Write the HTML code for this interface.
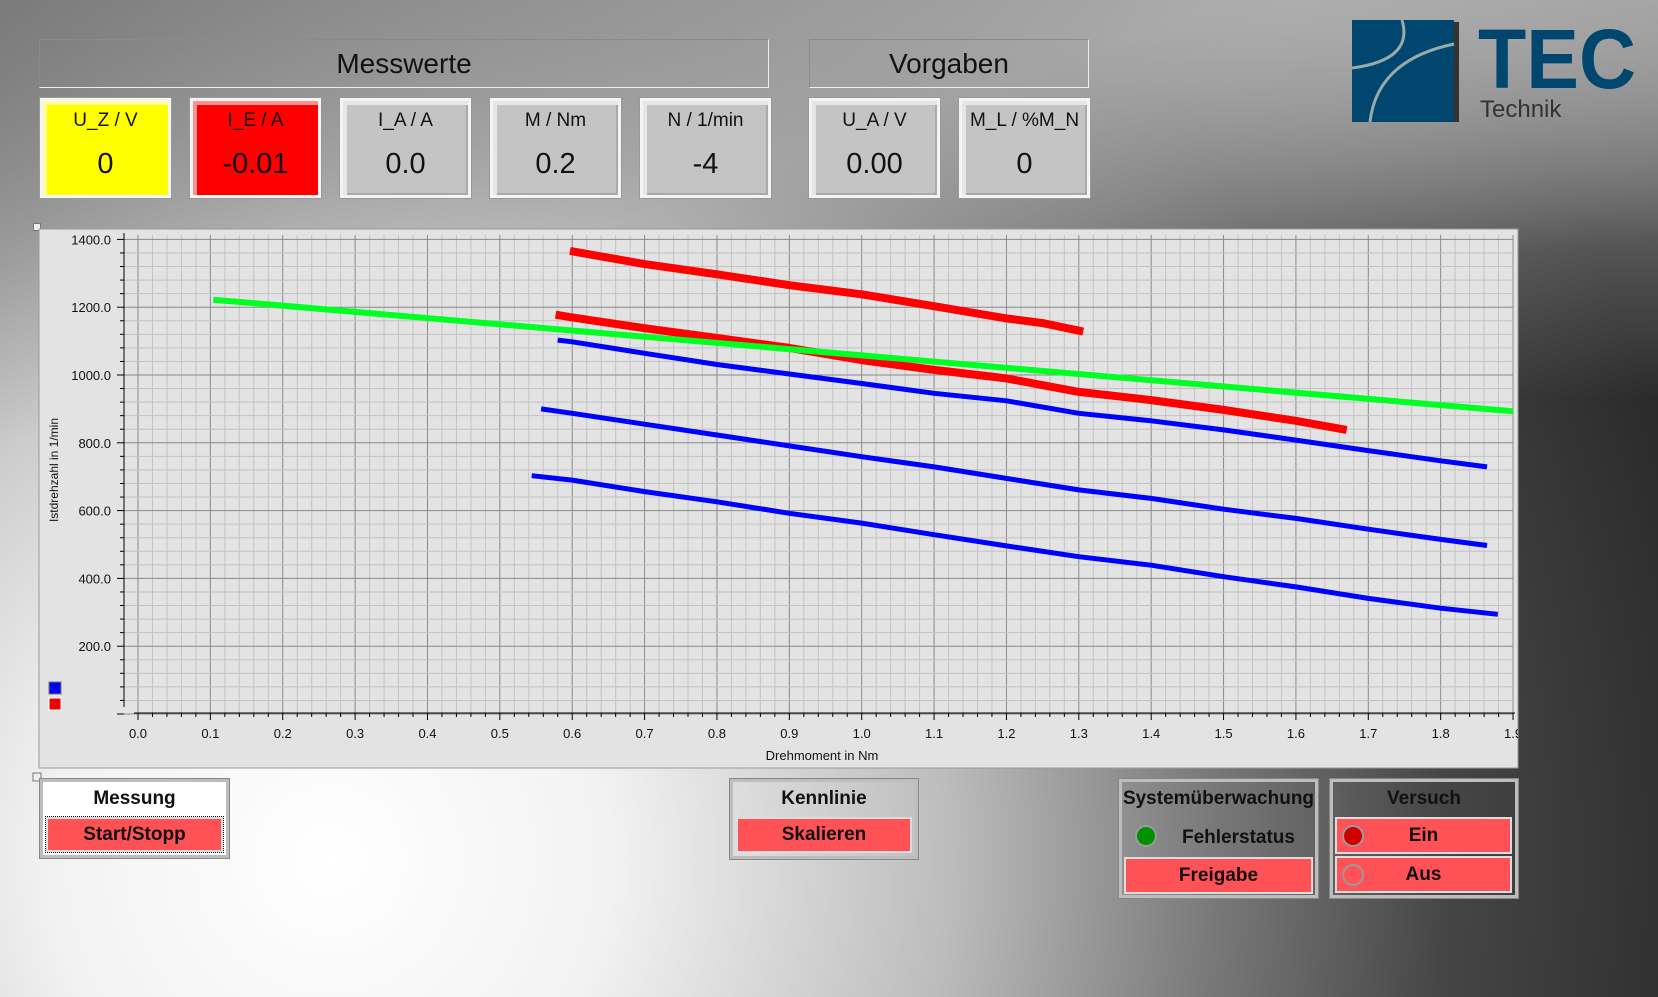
<!DOCTYPE html>
<html><head><meta charset="utf-8">
<style>
*{box-sizing:border-box;margin:0;padding:0}
body{width:1658px;height:997px;overflow:hidden;position:relative;font-family:"Liberation Sans",sans-serif;
background:
linear-gradient(160deg,rgba(60,60,60,.45) 0%,rgba(60,60,60,0) 28%),
radial-gradient(ellipse 950px 260px at 1300px 0px,rgba(175,175,175,.9),rgba(175,175,175,0)),
linear-gradient(to bottom,rgba(200,200,200,.7) 0,rgba(200,200,200,0) 40%),
radial-gradient(circle at 330px 860px,#ffffff 0px,#f2f2f2 280px,#bcbcbc 620px,#7a7a7a 880px,#454545 1120px,#2b2b2b 1400px);}
.abs{position:absolute}
.hdr{border:1px solid #8a8a8a;border-bottom-color:#eee;border-right-color:#eee;font-size:28px;text-align:center;line-height:48px;color:#111}
.box{position:absolute;top:98px;width:131px;height:100px;border:3px solid #f4f4f4;outline:1px solid #999;background:#c4c4c4;
box-shadow:inset 4px 4px 0 #e6e6e6,inset -2px -2px 0 #aaa;text-align:center;color:#111}
.box .l{font-size:19px;margin-top:9px}
.box .v{font-size:29px;margin-top:16px}
.pan{position:absolute;border:3px solid #bdbdbd;outline:1px solid #888}
.btn{position:absolute;background:#ff5257;border:2px solid #ddd;font-weight:bold;font-size:19px;text-align:center;color:#111}
.ttl{position:absolute;left:0;right:0;text-align:center;font-weight:bold;font-size:19px;color:#111}
.led{position:absolute;width:22px;height:22px;border-radius:50%;border:2px solid #9a9a9a}
</style></head><body>
<div class="abs hdr" style="left:39px;top:39px;width:730px;height:49px">Messwerte</div>
<div class="abs hdr" style="left:809px;top:39px;width:280px;height:49px">Vorgaben</div>

<div class="box" style="left:40px;background:#ffff00;box-shadow:inset 4px 4px 0 #ffffa0"><div class="l">U_Z / V</div><div class="v">0</div></div>
<div class="box" style="left:190px;background:#ff0000;box-shadow:inset 4px 4px 0 #ff9090"><div class="l">I_E / A</div><div class="v">-0.01</div></div>
<div class="box" style="left:340px"><div class="l">I_A / A</div><div class="v">0.0</div></div>
<div class="box" style="left:490px"><div class="l">M / Nm</div><div class="v">0.2</div></div>
<div class="box" style="left:640px"><div class="l">N / 1/min</div><div class="v">-4</div></div>
<div class="box" style="left:809px"><div class="l">U_A / V</div><div class="v">0.00</div></div>
<div class="box" style="left:959px"><div class="l">M_L / %M_N</div><div class="v">0</div></div>

<div class="abs" style="left:1352px;top:20px;width:300px;height:104px">
 <svg width="300" height="104">
  <rect x="0" y="0" width="102" height="102" fill="#00466e"/>
  <rect x="102" y="2" width="5" height="100" fill="#333"/>
  <path d="M50 0 Q62 40 0 48" stroke="#9aa" stroke-width="3" fill="none"/>
  <path d="M18 102 Q25 40 102 24" stroke="#9aa" stroke-width="3" fill="none"/>
  <text x="126" y="68" font-family="Liberation Sans,sans-serif" font-weight="bold" font-size="84" fill="#00466e" textLength="158" lengthAdjust="spacingAndGlyphs">TEC</text>
  <text x="128" y="97" font-family="Liberation Sans,sans-serif" font-size="24" fill="#333">Technik</text>
 </svg>
</div>

<div class="abs" style="left:33px;top:223px;width:8px;height:8px;border:1px solid #777;background:#eee"></div>
<svg class="abs" id="chart" style="left:0;top:0" width="1658" height="997"></svg>

<div class="pan" style="left:40px;top:779px;width:189px;height:79px;background:#fff">
 <div class="ttl" style="top:6px">Messung</div>
 <div class="btn" style="left:3px;top:35px;width:177px;height:35px;line-height:31px;outline:1px dotted #000">Start/Stopp</div>
</div>
<div class="pan" style="left:730px;top:779px;width:188px;height:80px">
 <div class="ttl" style="top:6px">Kennlinie</div>
 <div class="btn" style="left:3px;top:35px;width:176px;height:36px;line-height:32px">Skalieren</div>
</div>
<div class="pan" style="left:1119px;top:779px;width:199px;height:119px">
 <div class="ttl" style="top:6px">Systemüberwachung</div>
 <div class="led" style="left:13px;top:43px;background:#009000"></div>
 <div class="abs" style="left:60px;top:45px;font-weight:bold;font-size:19px;color:#111">Fehlerstatus</div>
 <div class="btn" style="left:2px;top:75px;width:189px;height:37px;line-height:33px">Freigabe</div>
</div>
<div class="pan" style="left:1330px;top:779px;width:188px;height:119px">
 <div class="ttl" style="top:6px">Versuch</div>
 <div class="btn" style="left:2px;top:35px;width:177px;height:37px;line-height:33px">Ein</div>
 <div class="led" style="left:9px;top:43px;background:#d00000"></div>
 <div class="btn" style="left:2px;top:74px;width:177px;height:37px;line-height:33px">Aus</div>
 <div class="led" style="left:9px;top:82px;background:transparent"></div>
</div>

<script>
const xTicks=[0.0,0.1,0.2,0.3,0.4,0.5,0.6,0.7,0.8,0.9,1.0,1.1,1.2,1.3,1.4,1.5,1.6,1.7,1.8,1.9];
const xTickLabels=["0.0","0.1","0.2","0.3","0.4","0.5","0.6","0.7","0.8","0.9","1.0","1.1","1.2","1.3","1.4","1.5","1.6","1.7","1.8","1.9"];
const yTicks=[200,400,600,800,1000,1200,1400];
const yTickLabels=["200.0","400.0","600.0","800.0","1000.0","1200.0","1400.0"];
const greenX=[0.104,1.9];
const greenY=[1222,893];
const redAX=[0.597,0.7,0.8,0.9,1.0,1.1,1.2,1.25,1.306];
const redAY=[1366,1327,1297,1265,1238,1203,1167,1153,1128];
const redBX=[0.577,0.6,0.7,0.8,0.9,1.0,1.1,1.2,1.3,1.4,1.5,1.6,1.67];
const redBY=[1178,1170,1138,1109,1080,1044,1015,990,950,926,897,865,838];
const blue1X=[0.58,0.6,0.7,0.8,0.9,1.0,1.1,1.2,1.3,1.4,1.5,1.6,1.7,1.8,1.864];
const blue1Y=[1103,1098,1064,1031,1003,975,946,924,887,865,838,808,777,747,729];
const blue2X=[0.557,0.6,0.7,0.8,0.9,1.0,1.1,1.2,1.3,1.4,1.5,1.6,1.7,1.8,1.864];
const blue2Y=[900,887,855,823,791,759,729,695,661,636,604,577,545,515,497];
const blue3X=[0.544,0.6,0.7,0.8,0.9,1.0,1.1,1.2,1.3,1.4,1.5,1.6,1.7,1.8,1.879];
const blue3Y=[703,690,656,626,592,563,529,496,464,439,405,375,341,312,294];

const NS="http://www.w3.org/2000/svg";
const svg=document.getElementById('chart');
const X0=138,XS=723.7,Y0=714,YS=0.339,TOP=235,RIGHT=1513,BOTTOM=713;
function sx(v){return X0+v*XS;}
function sy(v){return Y0-v*YS;}
function mk(tag,attrs){const e=document.createElementNS(NS,tag);for(const k in attrs)e.setAttribute(k,attrs[k]);svg.appendChild(e);return e;}

const panel=mk('rect',{x:39,y:229,width:1479,height:539,fill:'#e3e3e3',stroke:'#9a9a9a'});



for(let i=0;i<=95;i++){const v=i*0.02;const x=sx(v);if(x>RIGHT+1)break;
 const l=mk('line',{x1:x,x2:x,y1:TOP,y2:BOTTOM,stroke:i%5?'#c2c2c2':'#8a8a8a','stroke-width':1});
 
 }
for(let i=0;i<=35;i++){const v=i*40;const y=sy(v);if(y<TOP)break;
 const l=mk('line',{x1:X0-14,x2:RIGHT,y1:y,y2:y,stroke:i%5?'#c2c2c2':'#8a8a8a','stroke-width':1});
 
 }
const ya=mk('line',{x1:124,x2:124,y1:TOP-2,y2:707,stroke:'#000'});


const xa=mk('line',{x1:X0-4,x2:RIGHT+2,y1:713,y2:713,stroke:'#000'});


for(let i=0;i<=35;i++){const y=sy(i*40);if(y<TOP)break;
 const t=mk('line',{x1:i%5?120:117,x2:124,y1:y,y2:y,stroke:'#000'});
 
 }
for(let i=0;i<=95;i++){const x=sx(i*0.02);if(x>RIGHT+1)break;
 const t=mk('line',{x1:x,x2:x,y1:713,y2:i%5?717:720,stroke:'#000'});
 
 }
yTicks.forEach((v,i)=>{const t=mk('text',{x:111,y:sy(v)+5,'text-anchor':'end','font-size':13,'font-family':'Liberation Sans,sans-serif',fill:'#111'});t.textContent=yTickLabels[i];
 
 });
const clip=mk('clipPath',{id:'pc'});const cr=document.createElementNS(NS,'rect');cr.setAttribute('x',39);cr.setAttribute('y',229);cr.setAttribute('width',1479);cr.setAttribute('height',539);clip.appendChild(cr);
xTicks.forEach((v,i)=>{const t=mk('text',{x:sx(v),y:738,'text-anchor':'middle','font-size':13,'font-family':'Liberation Sans,sans-serif',fill:'#111','clip-path':'url(#pc)'});t.textContent=xTickLabels[i];
 
 });
const xt=mk('text',{x:822,y:760,'text-anchor':'middle','font-size':13,'font-family':'Liberation Sans,sans-serif',fill:'#111'});xt.textContent='Drehmoment in Nm';


const yt=mk('text',{x:0,y:0,'text-anchor':'middle','font-size':12,'font-family':'Liberation Sans,sans-serif',fill:'#111',transform:'translate(58,470) rotate(-90)'});yt.textContent='Istdrehzahl in 1/min';



function series(xs,ys,color,w,name){
 const d=xs.map((v,i)=>(i?'L':'M')+sx(v).toFixed(1)+' '+sy(ys[i]).toFixed(1)).join(' ');
 const p=mk('path',{d:d,stroke:color,'stroke-width':w,fill:'none','stroke-linejoin':'round'});
 
 }
series(blue1X,blue1Y,'#0000ff',5,'blue-series-1');
series(blue2X,blue2Y,'#0000ff',5,'blue-series-2');
series(blue3X,blue3Y,'#0000ff',5,'blue-series-3');
series(redBX,redBY,'#ff0000',8,'red-series-2');
series(greenX,greenY,'#00ff22',6,'green-setpoint-line');
series(redAX,redAY,'#ff0000',8,'red-series-1');

const lb=mk('rect',{x:49,y:682,width:12,height:12,fill:'#0000ee',stroke:'#777'});


const lr=mk('rect',{x:49,y:698,width:12,height:12,fill:'#ee0000',stroke:'#fff'});


const h2=mk('rect',{x:33,y:773,width:8,height:8,fill:'#eee',stroke:'#777'});


</script>
</body></html>
